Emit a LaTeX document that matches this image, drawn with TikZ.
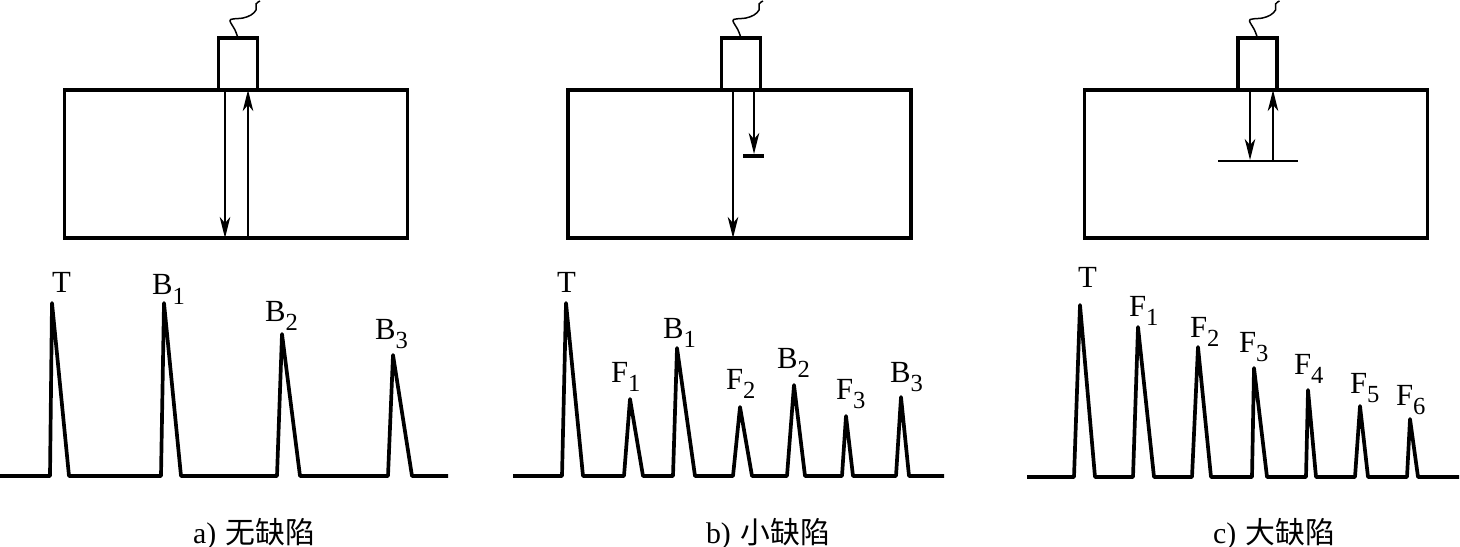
\documentclass[tikz,border=0pt]{standalone}
\usepackage{fontspec}
\setmainfont{Liberation Serif}
\newfontfamily\cjk{Noto Sans CJK SC}
\usetikzlibrary{arrows.meta}
\tikzset{
  blockbox/.style={draw=black, line width=2pt, minimum width=6.86cm, minimum height=2.96cm, inner sep=0pt, outer sep=0pt},
  probebox/.style={draw=black, line width=2pt, minimum width=0.78cm, minimum height=1.04cm, inner sep=0pt, outer sep=0pt},
  beam/.style={black, line width=0.8pt, -{Stealth[length=12pt,width=6pt,inset=3.5pt]}},
  wire/.style={black, line width=0.85pt},
  trace/.style={black, line width=2.1pt, line join=round},
  peaklabel/.style={anchor=base west, inner sep=0pt, outer sep=0pt, font=\fontsize{17.5}{19}\selectfont},
  caption/.style={anchor=base west, inner sep=0pt, outer sep=0pt, font=\fontsize{17}{19}\selectfont}
}
\newcommand{\sublbl}[2]{#1\lower5.5pt\hbox{\fontsize{14}{15}\selectfont #2}}
\newcommand{\probewire}[1]{\draw[wire, shift={(#1.north)}] plot[smooth, tension=0.6] coordinates {(0,0) (-3,-8) (-8,-17) (-5,-19) (5,-20) (13,-23) (18,-28) (18,-34) (22,-37)};}
\begin{document}
\begin{tikzpicture}[x=0.02cm, y=-0.02cm]
\useasboundingbox (0,0) rectangle (1460,547);
% no defect
\node[blockbox] (blocka) at (236,164) {};
\node[probebox] (probea) at (238,64) {};
\probewire{probea}
\coordinate (a1) at (225,90);
\coordinate (a2) at (225,238);
\coordinate (a3) at (248,238);
\coordinate (a4) at (248,90);
\draw[beam] (a1) -- (a2);
\draw[beam] (a3) -- (a4);
\draw[trace] (0,476) -- (50,476) -- (52,303) -- (69,476) -- (161,476) -- (164,303) -- (181,476) -- (277,476) -- (282,334) -- (300,476) -- (388,476) -- (393,355) -- (412,476) -- (448,476);
\node[peaklabel] (ta) at (52,293) {T};
\node[peaklabel] (b1a) at (152,295) {\sublbl{B}{1}};
\node[peaklabel] (b2a) at (265,321) {\sublbl{B}{2}};
\node[peaklabel] (b3a) at (375,339) {\sublbl{B}{3}};
\node[caption] (capa) at (193,543) {a)\hspace{5.5pt}{\cjk 无缺陷}};
% small defect
\node[blockbox] (blockb) at (739.5,164) {};
\node[probebox] (probeb) at (741,64) {};
\probewire{probeb}
\coordinate (b1) at (733,90);
\coordinate (b2) at (733,238);
\coordinate (b3) at (754,90);
\coordinate (b4) at (754,154);
\coordinate (b5) at (743,156);
\coordinate (b6) at (764,156);
\draw[beam] (b1) -- (b2);
\draw[beam] (b3) -- (b4);
\draw[black, line width=2pt] (b5) -- (b6);
\draw[trace] (513,476) -- (562,476) -- (566,303) -- (583,476) -- (624,476) -- (630,399) -- (643,476) -- (673,476) -- (677,348) -- (695,476) -- (733,476) -- (740,407) -- (752,476) -- (787,476) -- (794,385) -- (805,476) -- (842,476) -- (846,416) -- (853,476) -- (896,476) -- (901,397) -- (909,476) -- (944,476);
\node[peaklabel] (tb) at (557,293) {T};
\node[peaklabel] (f1b) at (611,382) {\sublbl{F}{1}};
\node[peaklabel] (b1b) at (663,338) {\sublbl{B}{1}};
\node[peaklabel] (f2b) at (726,389) {\sublbl{F}{2}};
\node[peaklabel] (b2b) at (777,368) {\sublbl{B}{2}};
\node[peaklabel] (f3b) at (836,399) {\sublbl{F}{3}};
\node[peaklabel] (b3b) at (890,382) {\sublbl{B}{3}};
\node[caption] (capb) at (706,543) {b)\hspace{5.5pt}{\cjk 小缺陷}};
% large defect
\node[blockbox] (blockc) at (1256,164) {};
\node[probebox] (probec) at (1257.5,64) {};
\probewire{probec}
\coordinate (c1) at (1250,90);
\coordinate (c2) at (1250,160);
\coordinate (c3) at (1273,161);
\coordinate (c4) at (1273,90);
\coordinate (c5) at (1218,161);
\coordinate (c6) at (1298,161);
\draw[beam] (c1) -- (c2);
\draw[beam] (c3) -- (c4);
\draw[black, line width=1.7pt] (c5) -- (c6);
\draw[trace] (1027,477) -- (1074,477) -- (1080,305) -- (1095,477) -- (1133,477) -- (1138,327) -- (1154,477) -- (1192,477) -- (1198,347) -- (1211,477) -- (1252,477) -- (1254,368) -- (1267,477) -- (1306,477) -- (1308,390) -- (1316,477) -- (1355,477) -- (1360,406) -- (1368,477) -- (1407,477) -- (1410,419) -- (1418,477) -- (1459,477);
\node[peaklabel] (tc) at (1078,287) {T};
\node[peaklabel] (f1c) at (1129,316) {\sublbl{F}{1}};
\node[peaklabel] (f2c) at (1190,337) {\sublbl{F}{2}};
\node[peaklabel] (f3c) at (1239,352) {\sublbl{F}{3}};
\node[peaklabel] (f4c) at (1294,374) {\sublbl{F}{4}};
\node[peaklabel] (f5c) at (1350,393) {\sublbl{F}{5}};
\node[peaklabel] (f6c) at (1396,405) {\sublbl{F}{6}};
\node[caption] (capc) at (1213,543) {c)\hspace{5.5pt}{\cjk 大缺陷}};
\end{tikzpicture}
\end{document}
